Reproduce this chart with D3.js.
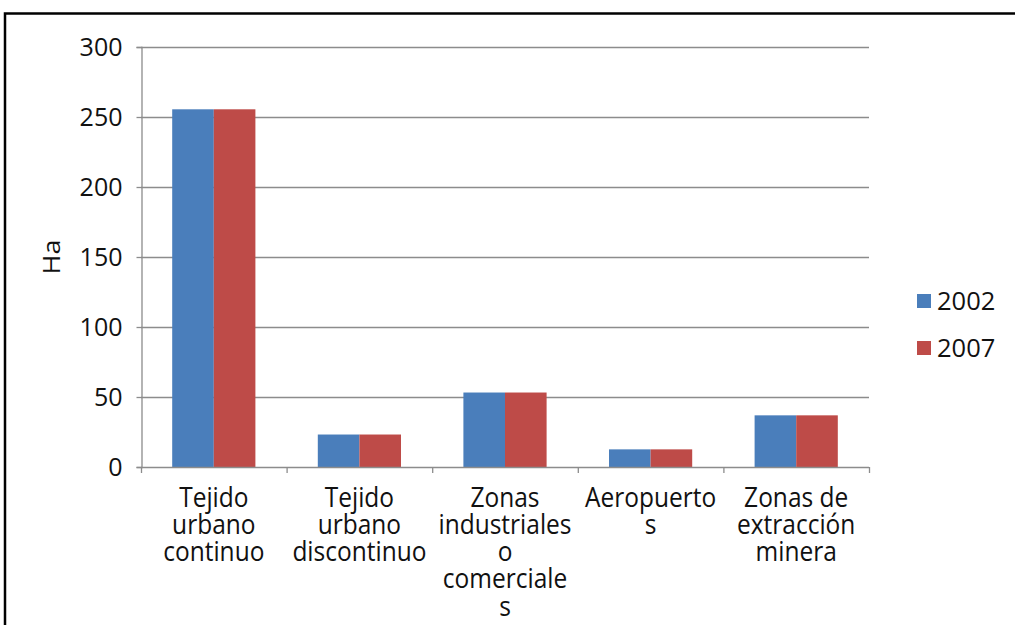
<!DOCTYPE html>
<html>
<head>
<meta charset="utf-8">
<script src="https://cdn.jsdelivr.net/npm/d3@7/dist/d3.min.js"></script>
<style>
  html, body { margin: 0; padding: 0; background: #fff; }
  svg { display: block; font-family: "Open Sans", "Noto Sans", sans-serif; }
</style>
</head>
<body>
<svg id="chart" width="1015" height="625"></svg>
<script>
// Land-cover area (hectares) per class, 2002 vs 2007
const categories = [
  ["Tejido", "urbano", "continuo"],
  ["Tejido", "urbano", "discontinuo"],
  ["Zonas", "industriales", "o", "comerciale", "s"],
  ["Aeropuerto", "s"],
  ["Zonas de", "extracción", "minera"]
];
const seriesNames = ["2002", "2007"];
const values2002 = [255.5, 23.2, 53.2, 12.6, 36.9];
const values2007 = [255.5, 23.2, 53.2, 12.6, 36.9];
const yTicks = [0, 50, 100, 150, 200, 250, 300];
const colors = ["#4A7EBB", "#BE4B48"];

const svg = d3.select("#chart");
const plot = { left: 141, right: 869, top: 47, bottom: 467 };
const textColor = "#111";

// outer frame
svg.append("rect")
  .attr("x", 5).attr("y", 13.5)
  .attr("width", 1100).attr("height", 700)
  .attr("fill", "none").attr("stroke", "#000").attr("stroke-width", 2.5);

const idx = categories.map((_, i) => i);
const x = d3.scaleBand().domain(idx).range([plot.left, plot.right]).paddingInner(0).paddingOuter(0);
const y = d3.scaleLinear().domain([0, 300]).range([plot.bottom, plot.top]);

// grid lines
svg.append("g").selectAll("line").data(yTicks.filter(t => t > 0)).join("line")
  .attr("x1", plot.left).attr("x2", plot.right)
  .attr("y1", d => y(d) + 0.5).attr("y2", d => y(d) + 0.5)
  .attr("stroke", "#8c8c8c").attr("stroke-width", 1.3);

// bars: gap between groups is 1.5 bar widths
const step = x.bandwidth();
const barW = step / 3.5;
const series = [values2002, values2007];
series.forEach((vals, s) => {
  svg.append("g").selectAll("rect").data(vals).join("rect")
    .attr("x", (d, i) => x(i) + (step - 2 * barW) / 2 + s * barW)
    .attr("width", barW)
    .attr("y", d => y(d))
    .attr("height", d => y(0) - y(d))
    .attr("fill", colors[s]);
});

// y axis
const yAxis = d3.axisLeft(y).tickValues(yTicks).tickSize(5).tickPadding(14);
const gy = svg.append("g").attr("transform", `translate(${plot.left + 0.5},0)`).call(yAxis);
gy.select(".domain").attr("stroke", "#8c8c8c").attr("stroke-width", 1.3);
gy.selectAll(".tick line").attr("stroke", "#8c8c8c").attr("stroke-width", 1.3);
gy.selectAll(".tick text").attr("font-size", 25).attr("fill", textColor)
  .attr("font-family", "'Open Sans', 'Noto Sans', sans-serif");

// x axis line with ticks at category boundaries
const boundaries = d3.range(categories.length + 1).map(i => plot.left + i * step);
svg.append("line")
  .attr("x1", plot.left).attr("x2", plot.right)
  .attr("y1", plot.bottom + 0.5).attr("y2", plot.bottom + 0.5)
  .attr("stroke", "#8c8c8c").attr("stroke-width", 1.3);
svg.append("g").selectAll("line").data(boundaries).join("line")
  .attr("x1", d => d + 0.5).attr("x2", d => d + 0.5)
  .attr("y1", plot.bottom).attr("y2", plot.bottom + 6)
  .attr("stroke", "#8c8c8c").attr("stroke-width", 1.3);

// category labels, wrapped onto tightly spaced lines
const lab = svg.append("g");
categories.forEach((lines, i) => {
  lines.forEach((ln, k) => {
    lab.append("text")
      .attr("transform", `translate(${x(i) + step / 2},${506.5 + k * 27.3}) scale(1,1.1)`)
      .attr("text-anchor", "middle")
      .attr("font-size", 24.5).attr("fill", textColor)
      .text(ln);
  });
});

// y axis title
svg.append("text")
  .attr("transform", "translate(60,257) rotate(-90) scale(1.1,1)")
  .attr("text-anchor", "middle")
  .attr("font-size", 24.5).attr("fill", textColor)
  .text("Ha");

// legend
const leg = svg.append("g");
seriesNames.forEach((n, i) => {
  const cy = 301 + i * 47;
  leg.append("rect").attr("x", 917).attr("y", cy - 7).attr("width", 14).attr("height", 14).attr("fill", colors[i]);
  leg.append("text").attr("x", 937).attr("y", cy + 9).attr("font-size", 25.5).attr("fill", textColor).text(n);
});
</script>
</body>
</html>
